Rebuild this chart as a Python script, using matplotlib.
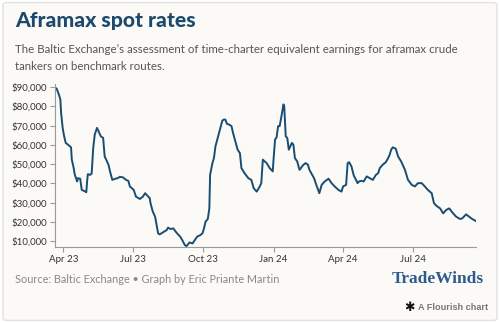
import matplotlib
matplotlib.use("Agg")
import matplotlib.pyplot as plt
from matplotlib.patches import FancyBboxPatch
from matplotlib.ticker import FuncFormatter
import pandas as pd

# daily TCE readings (USD/day)
dates = [
    "2023-03-21", "2023-03-23", "2023-03-26", "2023-03-28", "2023-03-29", "2023-03-31",
    "2023-04-02", "2023-04-04", "2023-04-07", "2023-04-11", "2023-04-12", "2023-04-14",
    "2023-04-16", "2023-04-19", "2023-04-20", "2023-04-23", "2023-04-25", "2023-04-28",
    "2023-05-01", "2023-05-02", "2023-05-03", "2023-05-06", "2023-05-08", "2023-05-10",
    "2023-05-12", "2023-05-15", "2023-05-18", "2023-05-20", "2023-05-23", "2023-05-25",
    "2023-05-28", "2023-05-30", "2023-06-01", "2023-06-04", "2023-06-08", "2023-06-11",
    "2023-06-14", "2023-06-18", "2023-06-22", "2023-06-25", "2023-06-27", "2023-07-02",
    "2023-07-05", "2023-07-10", "2023-07-14", "2023-07-17", "2023-07-19", "2023-07-23",
    "2023-07-24", "2023-07-27", "2023-07-30", "2023-08-01", "2023-08-03", "2023-08-05",
    "2023-08-09", "2023-08-12", "2023-08-14", "2023-08-16", "2023-08-19", "2023-08-23",
    "2023-08-26", "2023-08-29", "2023-09-01", "2023-09-04", "2023-09-07", "2023-09-09",
    "2023-09-11", "2023-09-13", "2023-09-17", "2023-09-20", "2023-09-23", "2023-09-27",
    "2023-09-30", "2023-10-02", "2023-10-04", "2023-10-07", "2023-10-09", "2023-10-10",
    "2023-10-13", "2023-10-15", "2023-10-17", "2023-10-20", "2023-10-23", "2023-10-26",
    "2023-10-28", "2023-10-30", "2023-11-01", "2023-11-04", "2023-11-07", "2023-11-09",
    "2023-11-12", "2023-11-15", "2023-11-18", "2023-11-20", "2023-11-24", "2023-11-29",
    "2023-12-03", "2023-12-06", "2023-12-10", "2023-12-14", "2023-12-16", "2023-12-18",
    "2023-12-23", "2023-12-27", "2023-12-31", "2024-01-01", "2024-01-03", "2024-01-05",
    "2024-01-07", "2024-01-09", "2024-01-11", "2024-01-14", "2024-01-15", "2024-01-17",
    "2024-01-19", "2024-01-21", "2024-01-25", "2024-01-27", "2024-01-29", "2024-02-01",
    "2024-02-04", "2024-02-09", "2024-02-12", "2024-02-15", "2024-02-17", "2024-02-23",
    "2024-02-26", "2024-03-01", "2024-03-04", "2024-03-08", "2024-03-13", "2024-03-17",
    "2024-03-21", "2024-03-26", "2024-03-30", "2024-04-01", "2024-04-05", "2024-04-07",
    "2024-04-09", "2024-04-12", "2024-04-15", "2024-04-18", "2024-04-20", "2024-04-22",
    "2024-04-25", "2024-04-28", "2024-05-02", "2024-05-06", "2024-05-10", "2024-05-14",
    "2024-05-17", "2024-05-19", "2024-05-23", "2024-05-27", "2024-05-30", "2024-06-01",
    "2024-06-03", "2024-06-05", "2024-06-09", "2024-06-12", "2024-06-16", "2024-06-21",
    "2024-06-25", "2024-06-30", "2024-07-04", "2024-07-08", "2024-07-13", "2024-07-17",
    "2024-07-21", "2024-07-26", "2024-07-29", "2024-08-01", "2024-08-06", "2024-08-10",
    "2024-08-14", "2024-08-18", "2024-08-22", "2024-08-27", "2024-09-01", "2024-09-04",
    "2024-09-09", "2024-09-13", "2024-09-17", "2024-09-22",
]
rates = [
    89500, 89300, 86200, 83600, 76600, 68800,
    64400, 61000, 60100, 58700, 52300, 48800,
    44400, 41000, 42700, 42400, 36600, 36100,
    35400, 41000, 44800, 44400, 45100, 58300,
    65300, 68800, 66200, 64400, 63600, 54000,
    51400, 49700, 46200, 41800, 42400, 42700,
    43400, 43100, 41800, 41300, 38400, 36600,
    33100, 31900, 33100, 34900, 34000, 32300,
    29700, 25300, 22700, 18400, 14000, 13500,
    14500, 15200, 15700, 17000, 16300, 16600,
    14900, 13500, 12300, 10200, 7900, 7400,
    8300, 9300, 8800, 10500, 12300, 13100,
    14000, 16600, 20100, 21500, 27000, 44400,
    50500, 53100, 59200, 63600, 67900, 72600,
    73100, 73100, 70900, 70500, 69700, 66200,
    61800, 57500, 55700, 47900, 45300, 42700,
    41800, 37500, 35700, 38400, 40100, 52300,
    50500, 47900, 46200, 52300, 62700, 63900,
    69700, 69700, 74000, 81000, 80100, 64400,
    63600, 57500, 61000, 60100, 53100, 51400,
    47000, 49600, 50500, 49700, 47000, 42700,
    39200, 34900, 39200, 41000, 42400, 40100,
    38400, 36600, 35700, 38400, 39200, 50500,
    51000, 48800, 44100, 41800, 40100, 41000,
    41300, 41000, 43600, 42700, 41800, 44400,
    45300, 47900, 49700, 51000, 53100, 54900,
    57500, 58700, 58000, 54000, 51400, 47000,
    41800, 39200, 38400, 40100, 40100, 38400,
    36600, 34900, 29700, 28400, 27000, 24400,
    26200, 27000, 24900, 22700, 21500, 21800,
    23900, 22700, 21500, 20400,
]

tick_dates = ["2023-04-01", "2023-07-01", "2023-10-01", "2024-01-01", "2024-04-01", "2024-07-01"]
tick_labels = ["Apr 23", "Jul 23", "Oct 23", "Jan 24", "Apr 24", "Jul 24"]
y_ticks = [10000, 20000, 30000, 40000, 50000, 60000, 70000, 80000, 90000]

BG = "#fcfaf6"
LINE = "#1a4d72"
AXIS = "#9a9a9a"

plt.rcParams["font.family"] = ["Lato", "DejaVu Sans"]

fig = plt.figure(figsize=(5.0, 3.23), dpi=100)
fig.patch.set_facecolor("white")
fig.patches.append(FancyBboxPatch((0.006, 0.008), 0.988, 0.984, boxstyle="round,pad=0,rounding_size=0.008",
                                  transform=fig.transFigure, facecolor=BG, edgecolor="#e2e2e2",
                                  linewidth=1.0, zorder=-1))

fig.text(0.03, 0.915, "Aframax spot rates", fontsize=15.2, fontweight="black", color="#1b4a6e")
fig.text(0.03, 0.835, "The Baltic Exchange\u2019s assessment of time-charter equivalent earnings for aframax crude",
         fontsize=8.3, color="#555555")
fig.text(0.03, 0.783, "tankers on benchmark routes.", fontsize=8.3, color="#555555")

ax = fig.add_axes([0.11, 0.235, 0.842, 0.505])
ax.set_facecolor(BG)
x = pd.to_datetime(dates)
ax.plot(x, rates, color=LINE, linewidth=1.4, solid_joinstyle="round")

ax.set_ylim(6900, 91600)
ax.set_xlim(pd.Timestamp("2023-03-21"), pd.Timestamp("2024-09-22"))
ax.set_yticks(y_ticks)
ax.yaxis.set_major_formatter(FuncFormatter(lambda v, p: f"${v:,.0f}"))
ax.set_xticks(pd.to_datetime(tick_dates))
ax.set_xticklabels(tick_labels)

for s in ["top", "right"]:
    ax.spines[s].set_visible(False)
for s in ["left", "bottom"]:
    ax.spines[s].set_color(AXIS)
    ax.spines[s].set_linewidth(0.8)
ax.tick_params(axis="both", colors=AXIS, length=3.5, width=0.8, labelsize=7, labelcolor="#333333", pad=2)

fig.text(0.03, 0.125, "Source: Baltic Exchange \u2022 Graph by Eric Priante Martin", fontsize=7.8, color="#888888")
fig.text(0.968, 0.125, "TradeWinds", fontsize=12.5, fontweight="bold", family="Liberation Serif",
         color="#2d5b8e", ha="right")
fig.text(0.976, 0.04, "A Flourish chart", fontsize=6.6, fontweight="bold", color="#777777", ha="right",
         family="Liberation Sans")
fig.text(0.829, 0.036, "\u2731", fontsize=9, color="#111111", ha="right", family="DejaVu Sans")

fig.savefig("out.png", dpi=100, facecolor=fig.get_facecolor())
